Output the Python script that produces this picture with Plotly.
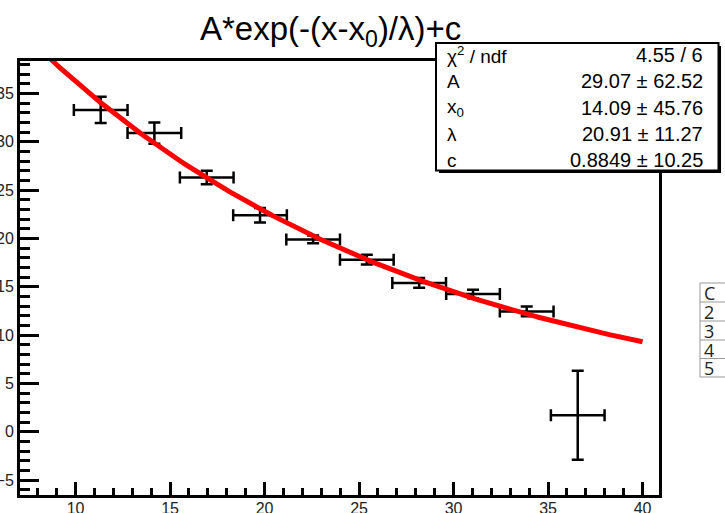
import numpy as np
import plotly.graph_objects as go

# ---- data ----
x_centers = [11.33, 14.17, 16.94, 19.76, 22.57, 25.41, 28.18, 31.03, 33.87, 36.57]
x_halfwidth = [1.42] * 10
y_values = [33.3, 30.9, 26.3, 22.4, 19.9, 17.8, 15.4, 14.25, 12.45, 1.7]
y_errors = [1.35, 1.1, 0.7, 0.75, 0.4, 0.5, 0.5, 0.45, 0.5, 4.6]

# fit parameters (from the stats box)
fit_A, fit_x0, fit_lam, fit_c = 29.07, 14.09, 20.91, 0.8849
stat_labels = ["χ<sup>2</sup> / ndf", "A", "x<sub>0</sub>", "λ", "c"]
stat_values = ["4.55 / 6", "29.07 ± 62.52", "14.09 ± 45.76", "20.91 ± 11.27", "0.8849 ± 10.25"]

table_cells = ["C", "2", "3", "4", "5"]

x_range = [7.06, 40.87]
y_range = [-6.55, 38.39]

W, H = 725, 513
def px(x):
    return x / W
def py(y):
    return 1 - y / H

fig = go.Figure()

fig.add_trace(go.Scatter(
    x=x_centers, y=y_values, mode="markers",
    marker=dict(size=1, color="black"),
    error_x=dict(type="data", array=x_halfwidth, color="black", thickness=2.5, width=6),
    error_y=dict(type="data", array=y_errors, color="black", thickness=2.5, width=6),
    showlegend=False, hoverinfo="skip",
))

xf = np.linspace(x_range[0], 40, 300)
yf = fit_A * np.exp(-(xf - fit_x0) / fit_lam) + fit_c
fig.add_trace(go.Scatter(
    x=xf, y=yf, mode="lines", line=dict(color="#ff0000", width=5),
    showlegend=False, hoverinfo="skip",
))

axis_common = dict(
    showline=True, mirror=True, linecolor="black", linewidth=3,
    showgrid=False, zeroline=False, ticks="inside", tickcolor="black",
    tickwidth=2.5, automargin=False,
    tickfont=dict(family="Liberation Sans, Arial", size=16, color="#222"),
)

fig.update_xaxes(
    range=x_range, domain=[px(20), px(659)], tick0=0, dtick=5, ticklen=13,
    ticklabelstandoff=-3,
    minor=dict(ticks="inside", dtick=1, tick0=0, ticklen=7, tickwidth=2.5, tickcolor="black", showgrid=False),
    **axis_common,
)
fig.update_yaxes(
    range=y_range, domain=[py(495), py(60.7)], tick0=0, dtick=5, ticklen=19,
    minor=dict(ticks="inside", dtick=1, tick0=0, ticklen=10, tickwidth=2.5, tickcolor="black", showgrid=False),
    **axis_common,
)

shapes = []
# stats box shadow + box
shapes.append(dict(type="rect", xref="paper", yref="paper",
                   x0=px(439), x1=px(721), y0=py(173), y1=py(46),
                   fillcolor="black", line=dict(width=0), layer="above"))
shapes.append(dict(type="rect", xref="paper", yref="paper",
                   x0=px(436), x1=px(718.5), y0=py(170.5), y1=py(43),
                   fillcolor="white", line=dict(color="black", width=2), layer="above"))

# partial table on the right edge
row_lines = [283, 302, 321, 340, 358.5, 377]
for yl in row_lines:
    shapes.append(dict(type="line", xref="paper", yref="paper",
                       x0=px(700), x1=px(726), y0=py(yl), y1=py(yl),
                       line=dict(color="#999", width=1), layer="above"))
shapes.append(dict(type="line", xref="paper", yref="paper",
                   x0=px(700), x1=px(700), y0=py(283), y1=py(377),
                   line=dict(color="#999", width=1), layer="above"))

annotations = []
annotations.append(dict(
    text="A*exp(-(x-x<sub>0</sub>)/λ)+c", xref="paper", yref="paper",
    x=px(330), y=py(31), xanchor="center", yanchor="middle", showarrow=False,
    font=dict(family="Liberation Sans, Arial", size=33, color="black"),
))
row_y = [55, 81, 108, 134, 160]
for lab, val, ry in zip(stat_labels, stat_values, row_y):
    annotations.append(dict(text=lab, xref="paper", yref="paper", x=px(445), y=py(ry),
                            xanchor="left", yanchor="middle", showarrow=False,
                            font=dict(family="Liberation Sans, Arial", size=19, color="black")))
    annotations.append(dict(text=val, xref="paper", yref="paper", x=px(705), y=py(ry),
                            xanchor="right", yanchor="middle", showarrow=False,
                            font=dict(family="Liberation Sans, Arial", size=20, color="black")))

for i, cell in enumerate(table_cells):
    yc = (row_lines[i] + row_lines[i + 1]) / 2
    annotations.append(dict(text=cell, xref="paper", yref="paper", x=px(703), y=py(yc),
                            xanchor="left", yanchor="middle", showarrow=False,
                            height=17, borderpad=0,
                            font=dict(family="Open Sans", size=18, color="#222")))

fig.update_layout(
    width=W, height=H, margin=dict(l=0, r=0, t=0, b=0),
    paper_bgcolor="white", plot_bgcolor="white",
    shapes=shapes, annotations=annotations, showlegend=False,
)

fig.write_html("out.html", config={"displayModeBar": False},
               post_script="document.body.style.margin='0px';document.body.style.overflow='hidden';")
